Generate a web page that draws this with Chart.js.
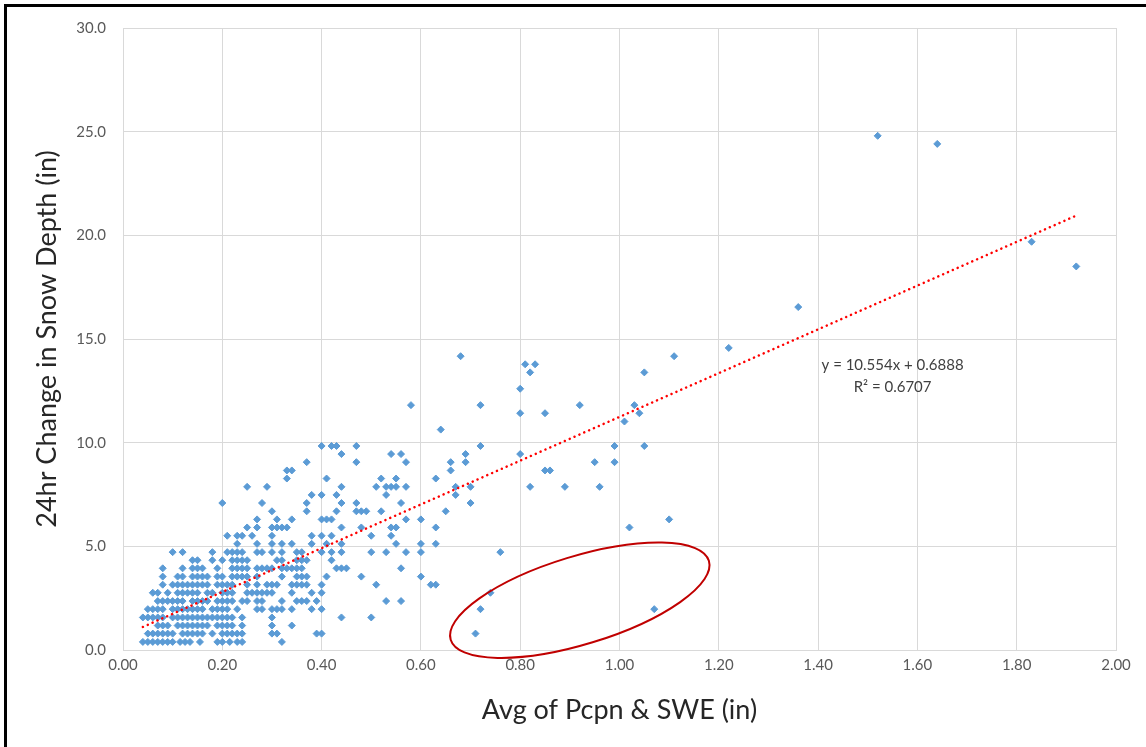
<!DOCTYPE html>
<html>
<head>
<meta charset="utf-8">
<title>Snow depth change vs precipitation</title>
<script src="https://cdn.jsdelivr.net/npm/chart.js@4.4.1/dist/chart.umd.min.js"></script>
<style>
    html, body { margin: 0; padding: 0; background: #fff; overflow: hidden; width: 1146px; height: 747px; }
    #wrap { position: absolute; left: 0; top: 0; width: 1146px; height: 747px; overflow: hidden; background: #fff; }
    .edge { position: absolute; background: #000; pointer-events: none; }
    #edge-left { left: 4px; top: 4px; width: 3px; height: 743px; }
    #edge-top { left: 4px; top: 4px; width: 1142px; height: 3px; }
    canvas { position: absolute; left: 0; top: 0; display: block; }
</style>
</head>
<body>
<div id="wrap">
    <canvas id="snow-chart" width="1146" height="747"></canvas>
    <div class="edge" id="edge-left"></div>
    <div class="edge" id="edge-top"></div>
</div>
<script>
// 24hr snow depth change levels (in) -- the gauge reads whole cm, so rows are discrete
const depthLevels = [
    0.39, 0.79, 1.18, 1.57, 1.97, 2.36, 2.76, 3.15, 3.54, 3.94,
    4.33, 4.72, 5.12, 5.51, 5.91, 6.30, 6.69, 7.09, 7.48, 7.87,
    8.27, 8.66, 9.06, 9.45, 9.84, 10.63, 11.02, 11.42, 11.81, 12.60,
    13.39, 13.78, 14.17, 14.57, 16.54, 18.50, 19.69, 24.41, 24.80
];

// avg of Pcpn & SWE (in) for every observation at the matching depth level
const pcpnAtLevel = [
    [0.04, 0.05, 0.06, 0.07, 0.08, 0.09, 0.10, 0.115, 0.125, 0.135, 0.155, 0.19, 0.20, 0.215, 0.23, 0.24, 0.32],
    [0.05, 0.06, 0.07, 0.08, 0.09, 0.10, 0.12, 0.13, 0.14, 0.15, 0.16, 0.18, 0.20, 0.21, 0.22, 0.23, 0.24, 0.30, 0.31, 0.39, 0.40, 0.71],
    [0.07, 0.08, 0.09, 0.11, 0.12, 0.13, 0.14, 0.15, 0.16, 0.17, 0.19, 0.20, 0.21, 0.22, 0.24, 0.30, 0.34],
    [0.04, 0.05, 0.06, 0.07, 0.08, 0.10, 0.11, 0.12, 0.13, 0.14, 0.15, 0.16, 0.17, 0.18, 0.19, 0.20, 0.21, 0.22, 0.24, 0.30, 0.44, 0.50],
    [0.05, 0.06, 0.07, 0.08, 0.10, 0.11, 0.12, 0.13, 0.14, 0.15, 0.16, 0.18, 0.19, 0.20, 0.21, 0.23, 0.27, 0.28, 0.30, 0.31, 0.32, 0.34, 0.38, 0.40, 0.72, 1.07],
    [0.07, 0.08, 0.09, 0.10, 0.11, 0.12, 0.14, 0.15, 0.16, 0.17, 0.19, 0.20, 0.21, 0.22, 0.24, 0.25, 0.27, 0.28, 0.32, 0.35, 0.36, 0.37, 0.39, 0.53, 0.56],
    [0.06, 0.07, 0.09, 0.11, 0.12, 0.13, 0.14, 0.15, 0.17, 0.18, 0.20, 0.21, 0.22, 0.25, 0.26, 0.27, 0.28, 0.29, 0.30, 0.34, 0.38, 0.40, 0.74],
    [0.08, 0.10, 0.11, 0.12, 0.13, 0.14, 0.15, 0.16, 0.17, 0.19, 0.20, 0.21, 0.22, 0.25, 0.27, 0.29, 0.30, 0.31, 0.34, 0.35, 0.36, 0.37, 0.40, 0.51, 0.62, 0.63],
    [0.08, 0.11, 0.12, 0.14, 0.15, 0.16, 0.17, 0.19, 0.20, 0.22, 0.23, 0.24, 0.25, 0.27, 0.32, 0.35, 0.36, 0.37, 0.41, 0.48, 0.60],
    [0.08, 0.12, 0.14, 0.15, 0.16, 0.19, 0.22, 0.23, 0.24, 0.25, 0.27, 0.28, 0.29, 0.30, 0.32, 0.33, 0.34, 0.35, 0.36, 0.43, 0.44, 0.45, 0.56],
    [0.14, 0.15, 0.18, 0.20, 0.22, 0.23, 0.24, 0.25, 0.31, 0.32, 0.35, 0.36, 0.37, 0.42],
    [0.10, 0.12, 0.18, 0.21, 0.22, 0.23, 0.24, 0.27, 0.28, 0.30, 0.32, 0.35, 0.36, 0.40, 0.42, 0.44, 0.50, 0.53, 0.57, 0.60, 0.76],
    [0.23, 0.27, 0.30, 0.32, 0.34, 0.38, 0.41, 0.44, 0.55, 0.60, 0.63],
    [0.21, 0.23, 0.24, 0.26, 0.30, 0.38, 0.40, 0.42, 0.50, 0.54],
    [0.25, 0.27, 0.30, 0.31, 0.32, 0.33, 0.44, 0.48, 0.54, 0.55, 0.63, 1.02],
    [0.27, 0.31, 0.34, 0.40, 0.41, 0.42, 0.57, 0.60, 1.10],
    [0.30, 0.37, 0.43, 0.47, 0.48, 0.49, 0.52, 0.65],
    [0.20, 0.28, 0.37, 0.44, 0.47, 0.56, 0.70],
    [0.38, 0.40, 0.43, 0.53, 0.67],
    [0.25, 0.29, 0.44, 0.51, 0.53, 0.54, 0.55, 0.57, 0.67, 0.70, 0.82, 0.89, 0.96],
    [0.33, 0.41, 0.52, 0.55, 0.63],
    [0.33, 0.34, 0.66, 0.85, 0.86],
    [0.37, 0.47, 0.57, 0.66, 0.69, 0.95, 0.99],
    [0.44, 0.54, 0.56, 0.69, 0.80],
    [0.40, 0.42, 0.43, 0.47, 0.72, 0.99, 1.05],
    [0.64],
    [1.01],
    [0.80, 0.85, 1.04],
    [0.58, 0.72, 0.92, 1.03],
    [0.80],
    [0.82, 1.05],
    [0.81, 0.83],
    [0.68, 1.11],
    [1.22],
    [1.36],
    [1.92],
    [1.83],
    [1.64],
    [1.52]
];

// linear trendline as reported by the fit
const trendSlope = 10.554;
const trendIntercept = 0.6888;
const trendR2 = 0.6707;

const xTicks = [0, 0.2, 0.4, 0.6, 0.8, 1.0, 1.2, 1.4, 1.6, 1.8, 2.0];
const yTicks = [0, 5, 10, 15, 20, 25, 30];

const observations = [];
depthLevels.forEach((depth, i) => {
    pcpnAtLevel[i].forEach(p => observations.push({ x: p, y: depth }));
});

const pcpnValues = observations.map(o => o.x);
const trendStart = Math.min(...pcpnValues);
const trendEnd = Math.max(...pcpnValues);
const trendPoints = [trendStart, trendEnd].map(v => ({ x: v, y: trendSlope * v + trendIntercept }));

const tickFont = { family: 'Lato', size: 15 };
const titleFont = { family: 'Lato', size: 27 };
const gridColor = '#d9d9d9';

// equation label + hand-drawn ellipse around the low-ratio cases
const callouts = {
    id: 'callouts',
    afterDatasetsDraw(chart, args, opts) {
        const { ctx, scales: { x, y } } = chart;
        ctx.save();
        ctx.font = '15px Lato';
        ctx.fillStyle = '#404040';
        ctx.textAlign = 'center';
        ctx.textBaseline = 'middle';
        const lx = x.getPixelForValue(opts.labelAt.x);
        const ly = y.getPixelForValue(opts.labelAt.y);
        ctx.fillText(`y = ${trendSlope}x + ${trendIntercept}`, lx, ly);
        ctx.fillText(`R\u00b2 = ${trendR2}`, lx, ly + 22);

        ctx.beginPath();
        ctx.ellipse(
            x.getPixelForValue(opts.ring.x), y.getPixelForValue(opts.ring.y),
            opts.ring.rx, opts.ring.ry, opts.ring.angle * Math.PI / 180, 0, Math.PI * 2
        );
        ctx.strokeStyle = '#c00000';
        ctx.lineWidth = 2;
        ctx.stroke();
        ctx.restore();
    }
};

new Chart(document.getElementById('snow-chart'), {
    type: 'scatter',
    data: {
        datasets: [
            {
                label: 'Linear trend',
                data: trendPoints,
                showLine: true,
                borderColor: '#ff0000',
                borderWidth: 2.5,
                borderDash: [0.1, 5.2],
                borderCapStyle: 'round',
                pointRadius: 0,
                order: 0
            },
            {
                label: '24hr change',
                data: observations,
                pointStyle: 'rectRot',
                pointRadius: 3.5,
                borderWidth: 1,
                backgroundColor: '#5b9bd5',
                borderColor: '#5b9bd5',
                order: 1
            }
        ]
    },
    options: {
        responsive: false,
        animation: false,
        layout: { padding: { left: 0, right: 30, top: 28, bottom: 0 } },
        plugins: {
            legend: { display: false },
            tooltip: { enabled: false },
            callouts: {
                labelAt: { x: 1.55, y: 13.75 },
                ring: { x: 0.92, y: 2.4, rx: 135, ry: 44, angle: -17 }
            }
        },
        scales: {
            x: {
                type: 'linear',
                min: 0,
                max: 2,
                afterFit: s => { s.height = 97; },
                afterBuildTicks: s => { s.ticks = xTicks.map(v => ({ value: v })); },
                ticks: {
                    callback: v => v.toFixed(2),
                    font: tickFont,
                    color: '#595959',
                    padding: 6,
                    maxRotation: 0
                },
                grid: { color: gridColor, drawTicks: false },
                border: { color: gridColor },
                title: {
                    display: true,
                    text: 'Avg of Pcpn & SWE (in)',
                    font: titleFont,
                    color: '#262626',
                    padding: { top: 0, bottom: 21 }
                }
            },
            y: {
                min: 0,
                max: 30,
                afterFit: s => { s.width = 123; },
                afterBuildTicks: s => { s.ticks = yTicks.map(v => ({ value: v })); },
                ticks: {
                    callback: v => v.toFixed(1),
                    font: tickFont,
                    color: '#595959',
                    padding: 17
                },
                grid: { color: gridColor, drawTicks: false },
                border: { color: gridColor },
                title: {
                    display: true,
                    text: '24hr Change in Snow Depth (in)',
                    font: titleFont,
                    color: '#262626',
                    padding: { top: 31, bottom: 0 }
                }
            }
        }
    },
    plugins: [callouts]
});
</script>
</body>
</html>
